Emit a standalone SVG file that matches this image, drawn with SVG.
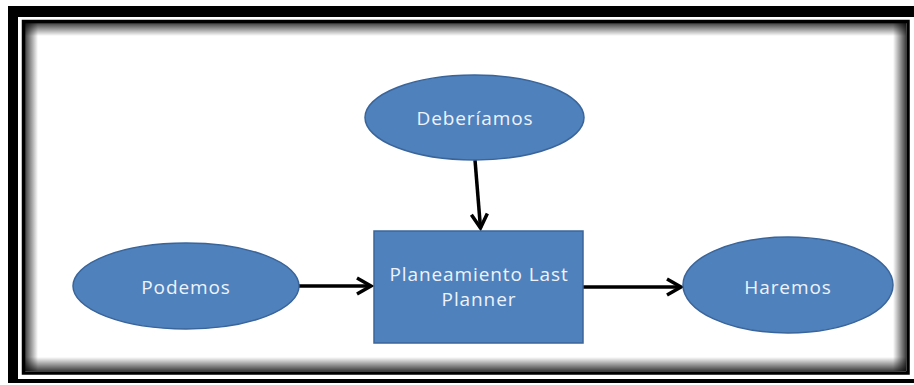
<svg xmlns="http://www.w3.org/2000/svg" width="914" height="385" viewBox="0 0 914 385">
  <defs>
    <style>
      .node { fill: #4f81bd; stroke: #3a659a; stroke-width: 1.5; }
      .label { fill: #eef3fa; font-family: "Open Sans", "Liberation Sans", sans-serif; font-size: 19px; letter-spacing: 0.9px; text-anchor: middle; dominant-baseline: central; }
      .edge { stroke: #000; stroke-width: 3.5; fill: none; }
      .frame { fill: #000; }
    </style>
    <marker id="chevron" markerUnits="userSpaceOnUse" viewBox="-18 -11 22 22" markerWidth="22" markerHeight="22" refX="0" refY="0" orient="auto">
      <path d="M-14,-8 L0,0 L-14,8" fill="none" stroke="#000" stroke-width="3.5" stroke-linejoin="miter"/>
    </marker>
    <linearGradient id="shadeTop" x1="0" y1="0" x2="0" y2="1">
      <stop offset="0" stop-color="#000" stop-opacity="0.75"/>
      <stop offset="1" stop-color="#000" stop-opacity="0"/>
    </linearGradient>
    <linearGradient id="shadeBottom" x1="0" y1="1" x2="0" y2="0">
      <stop offset="0" stop-color="#000" stop-opacity="0.75"/>
      <stop offset="1" stop-color="#000" stop-opacity="0"/>
    </linearGradient>
    <linearGradient id="shadeLeft" x1="0" y1="0" x2="1" y2="0">
      <stop offset="0" stop-color="#000" stop-opacity="0.75"/>
      <stop offset="1" stop-color="#000" stop-opacity="0"/>
    </linearGradient>
    <linearGradient id="shadeRight" x1="1" y1="0" x2="0" y2="0">
      <stop offset="0" stop-color="#000" stop-opacity="0.75"/>
      <stop offset="1" stop-color="#000" stop-opacity="0"/>
    </linearGradient>
  </defs>

  <rect width="914" height="385" fill="#fff"/>

  <!-- outer page border -->
  <g id="border">
    <rect class="frame" x="8" y="6" width="906" height="11"/>
    <rect class="frame" x="8" y="6" width="10" height="377"/>
    <rect class="frame" x="8" y="379" width="906" height="4"/>
    <!-- inner frame with inset shading -->
    <rect x="25" y="23" width="881" height="348" fill="#fff"/>
    <rect x="25" y="23" width="881" height="13" fill="url(#shadeTop)"/>
    <rect x="25" y="357" width="881" height="14" fill="url(#shadeBottom)"/>
    <rect x="25" y="23" width="13" height="348" fill="url(#shadeLeft)"/>
    <rect x="893" y="23" width="13" height="348" fill="url(#shadeRight)"/>
    <rect x="23.5" y="21.5" width="884.5" height="351.5" fill="none" stroke="#000" stroke-width="3.5"/>
  </g>

  <!-- connectors -->
  <g id="connectors">
    <line class="edge" x1="475" y1="160" x2="480.5" y2="228" marker-end="url(#chevron)"/>
    <line class="edge" x1="299" y1="286" x2="371" y2="286" marker-end="url(#chevron)"/>
    <line class="edge" x1="583" y1="287" x2="681" y2="287" marker-end="url(#chevron)"/>
  </g>

  <g id="deberiamos">
    <ellipse class="node" cx="474.5" cy="117.5" rx="109.5" ry="42.5"/>
    <text class="label" x="475" y="118">Deberíamos</text>
  </g>

  <g id="planeamiento">
    <rect class="node" x="374" y="231" width="209" height="112"/>
    <text class="label" x="479" y="274">Planeamiento Last</text>
    <text class="label" x="479" y="299">Planner</text>
  </g>

  <g id="podemos">
    <ellipse class="node" cx="186" cy="286" rx="113" ry="43"/>
    <text class="label" x="186" y="287">Podemos</text>
  </g>

  <g id="haremos">
    <ellipse class="node" cx="788" cy="285" rx="105" ry="48"/>
    <text class="label" x="788" y="287">Haremos</text>
  </g>
</svg>
